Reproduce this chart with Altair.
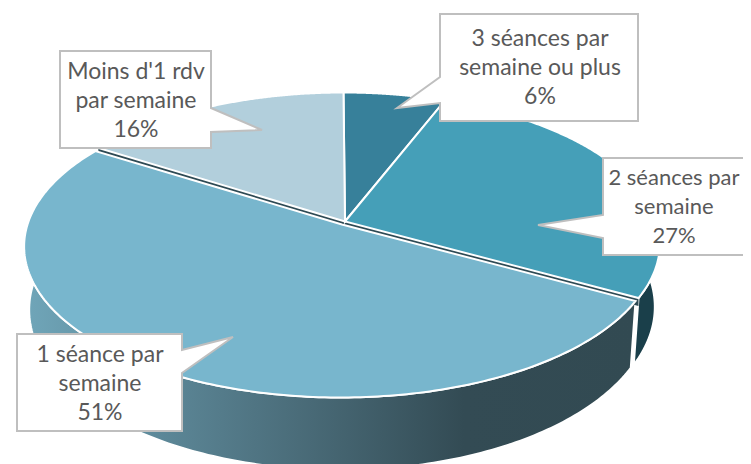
import numpy as np
import altair as alt

# ---- chart values ----
categories = ["3 séances par semaine ou plus", "2 séances par semaine", "1 séance par semaine", "Moins d'1 rdv par semaine"]
shares = [6, 27, 51, 16]
top_colors = ["#37809a", "#459fb8", "#78b6cd", "#b2cfdc"]
label_lines = ["3 séances par\nsemaine ou plus\n6%", "2 séances par\nsemaine\n27%", "1 séance par\nsemaine\n51%", "Moins d'1 rdv\npar semaine\n16%"]
label_sizes = [23, 22, 23, 23]

# ---- layout (reference pixels; the page margin is removed below) ----
MARGIN = 8
TIPX, CX, CY = 345, 343.5, 221.5
RX, RY, PERSP, DEPTH = 313, 147.8, 0.1457, 62
OFFSETS = [(0, 0), (0, 0), (-3, 3), (0, 0)]
callouts = [
    [(440, 14), (638, 14), (638, 121), (440, 121), (440, 103), (397, 108), (440, 77)],
    [(603, 158), (765, 158), (765, 255), (603, 255), (603, 238), (538, 225), (603, 215)],
    [(17, 334), (182, 334), (182, 350), (233, 337), (182, 373), (182, 431), (17, 431)],
    [(60, 51), (211, 51), (211, 108), (262, 130), (211, 132), (211, 148), (60, 148)],
]
label_anchor = [(540, 39), (674, 178), (100, 355), (136, 72)]


def project(theta, k, off, depth=0.0):
    u, v = np.sin(theta), -np.cos(theta)
    w = 1 - PERSP * v
    shrink = 1 - 0.016 * (depth / DEPTH)
    x = CX + off[0] + k * RX * u / w * shrink
    y = CY + off[1] + k * RY * v / w + depth / w
    return x, y


def ring(pts):
    pts = [[float(a) - MARGIN, float(b) - MARGIN] for a, b in pts]
    return pts + [pts[0]]


def feature(pts):
    return {"type": "Feature", "properties": {}, "geometry": {"type": "Polygon", "coordinates": [ring(pts)]}}


def shape(features, **mark):
    return (
        alt.Chart(alt.Data(values=features))
        .mark_geoshape(**mark)
        .project(type="identity", scale=1, translate=[0, 0])
    )


edges = np.cumsum([0] + shares) / sum(shares) * 2 * np.pi
tops, walls, inner = [], [], []
for i in range(len(shares)):
    th = np.linspace(edges[i], edges[i + 1], 200)
    rim = [project(t, 1, OFFSETS[i]) for t in th]
    tops.append(feature([(TIPX + OFFSETS[i][0], CY + OFFSETS[i][1])] + rim))
    front = th[np.cos(th) < 0.22]
    if len(front):
        a = [project(t, 1, OFFSETS[i]) for t in front]
        b = [project(t, 1, OFFSETS[i], DEPTH) for t in front[::-1]]
        walls.append(feature(a + b))
    else:
        walls.append(None)
    if OFFSETS[i] == (0, 0):
        for e in (edges[i], edges[i + 1]):
            e0 = project(e, 1, OFFSETS[i])
            inner.append(feature([(TIPX, CY), e0, (e0[0], e0[1] + 8), (TIPX, CY + 8)]))

big_wall = alt.Gradient(
    gradient="linear", x1=0, x2=1, y1=0, y2=0,
    stops=[
        alt.GradientStop(offset=0, color="#70a6b9"),
        alt.GradientStop(offset=0.25, color="#5a8494"),
        alt.GradientStop(offset=0.45, color="#4a6c79"),
        alt.GradientStop(offset=0.72, color="#334b54"),
        alt.GradientStop(offset=1, color="#324a52"),
    ],
)

layers = [
    shape([walls[1]], fill="#1a3f4a", stroke="white", strokeWidth=2),
    shape([walls[2]], fill=big_wall, stroke="white", strokeWidth=2),
    shape(inner, fill="#2e4a54", strokeWidth=0),
]
for i in [0, 1, 3, 2]:
    layers.append(shape([tops[i]], fill=top_colors[i], stroke="white", strokeWidth=2, strokeJoin="miter"))
for c in callouts:
    layers.append(shape([feature(c)], fill="white", stroke="#bfbfbf", strokeWidth=2, strokeJoin="miter"))

text_rows = [
    {"label": t, "lon": a[0] - MARGIN, "lat": a[1] - MARGIN, "fs": s}
    for t, a, s in zip(label_lines, label_anchor, label_sizes)
]
labels = (
    alt.Chart(alt.Data(values=text_rows))
    .mark_text(font="Lato", color="#595959", lineBreak="\n", lineHeight=29, align="center", baseline="middle")
    .encode(longitude="lon:Q", latitude="lat:Q", text="label:N",
            size=alt.Size("fs:Q", scale=None, legend=None))
    .project(type="identity", scale=1, translate=[0, 0])
)
layers.append(labels)

chart = (
    alt.layer(*layers)
    .properties(width=735, height=456, padding=0, background="white",
                autosize=alt.AutoSizeParams(type="none"))
    .configure_view(stroke=None)
)
chart.save("out.html", embed_options={"renderer": "svg", "actions": False})
